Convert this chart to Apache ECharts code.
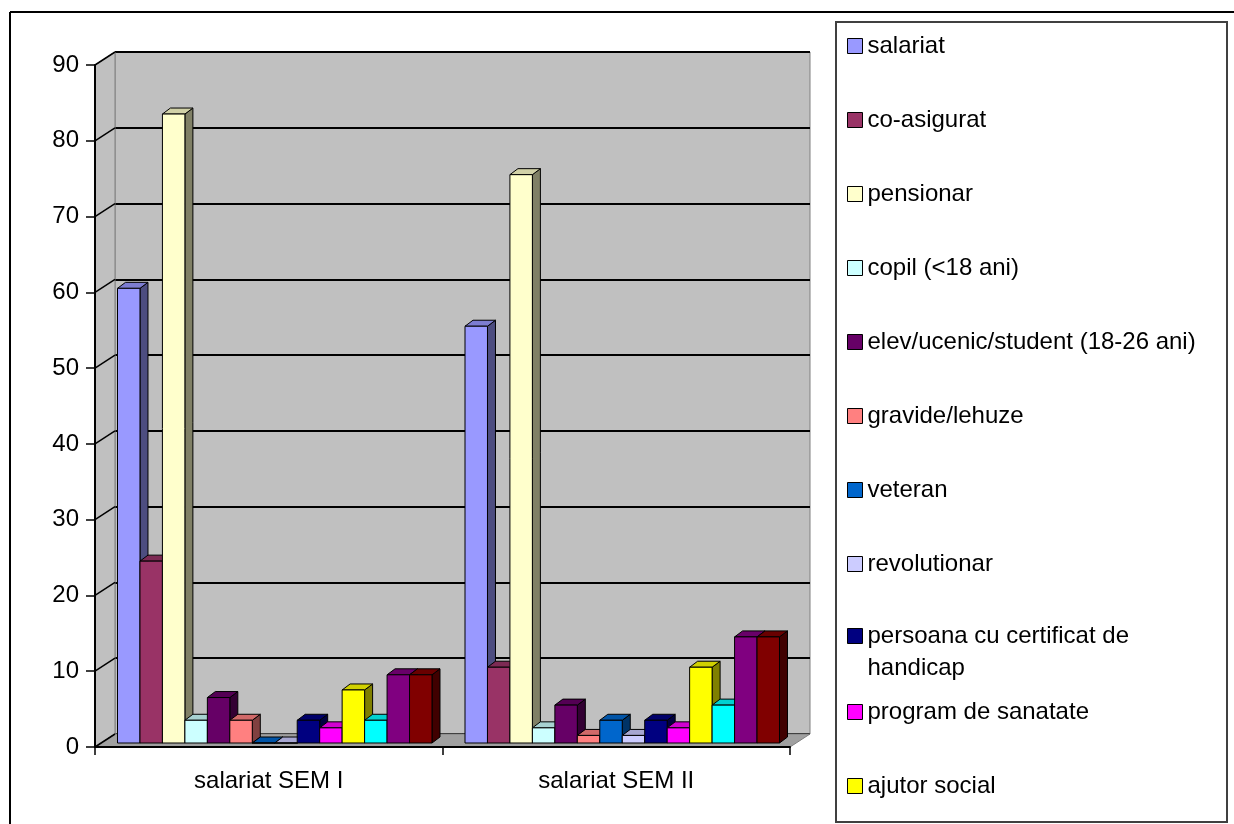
<!DOCTYPE html>
<html>
<head>
<meta charset="utf-8">
<script src="https://cdn.jsdelivr.net/npm/echarts@6/dist/echarts.min.js"></script>
<style>
  html, body { margin: 0; padding: 0; background: #fff; }
  #chart { width: 1234px; height: 824px; }
</style>
</head>
<body>
<div id="chart"></div>
<script>
// categories and values
var categories = ['salariat SEM I', 'salariat SEM II'];
var salariat = [60, 55];
var coAsigurat = [24, 10];
var pensionar = [83, 75];
var copil = [3, 2];
var elev = [6, 5];
var gravide = [3, 1];
var veteran = [0, 3];
var revolutionar = [0, 1];
var persoana = [3, 3];
var program = [2, 2];
var ajutor = [7, 10];
var serie12 = [3, 5];
var serie13 = [9, 14];
var serie14 = [9, 14];
var yMin = 0, yMax = 90, yStep = 10;

var seriesList = [
  { name: 'salariat', data: salariat, color: '#9999FF' },
  { name: 'co-asigurat', data: coAsigurat, color: '#993366' },
  { name: 'pensionar', data: pensionar, color: '#FFFFCC' },
  { name: 'copil (<18 ani)', data: copil, color: '#CCFFFF' },
  { name: 'elev/ucenic/student (18-26 ani)', data: elev, color: '#660066' },
  { name: 'gravide/lehuze', data: gravide, color: '#FF8080' },
  { name: 'veteran', data: veteran, color: '#0066CC' },
  { name: 'revolutionar', data: revolutionar, color: '#CCCCFF' },
  { name: 'persoana cu certificat de handicap', data: persoana, color: '#000080' },
  { name: 'program de sanatate', data: program, color: '#FF00FF' },
  { name: 'ajutor social', data: ajutor, color: '#FFFF00' },
  { name: 'serie 12', data: serie12, color: '#00FFFF' },
  { name: 'serie 13', data: serie13, color: '#800080' },
  { name: 'serie 14', data: serie14, color: '#800000' }
];

// 3D look
var wallDepth = [20, -13];
var barShift = [6, -4];
var barDepth = [8, -6];
var FONT = 'Liberation Sans';

function shade(hex, k) {
  var n = parseInt(hex.slice(1), 16);
  var r = Math.round(((n >> 16) & 255) * k);
  var g = Math.round(((n >> 8) & 255) * k);
  var b = Math.round((n & 255) * k);
  return 'rgb(' + r + ',' + g + ',' + b + ')';
}

function renderBar(params, api) {
  var idx = params.seriesIndex;
  var cnt = seriesList.length;
  var color = seriesList[idx].color;
  var base = api.coord([api.value(0), 0]);
  var top = api.coord([api.value(0), api.value(1)]);
  var catW = api.size([1, 0])[0];
  var bw = catW * 0.905 / cnt;
  var x0 = base[0] - bw * cnt / 2 + idx * bw + barShift[0];
  var x1 = x0 + bw;
  var y0 = base[1] + barShift[1];
  var y1 = top[1] + barShift[1];
  var dx = barDepth[0], dy = barDepth[1];
  return {
    type: 'group',
    children: [
      {
        type: 'polygon',
        shape: { points: [[x1, y0], [x1 + dx, y0 + dy], [x1 + dx, y1 + dy], [x1, y1]] },
        style: { fill: shade(color, 0.5), stroke: '#000', lineWidth: 1 }
      },
      {
        type: 'polygon',
        shape: { points: [[x0, y1], [x1, y1], [x1 + dx, y1 + dy], [x0 + dx, y1 + dy]] },
        style: { fill: shade(color, 0.82), stroke: '#000', lineWidth: 1 }
      },
      {
        type: 'rect',
        shape: { x: x0, y: y1, width: bw, height: y0 - y1 },
        style: { fill: color, stroke: '#000', lineWidth: 1 }
      }
    ]
  };
}

var legendText = { fontFamily: FONT, fontSize: 24, color: '#000', lineHeight: 28 };

var chart = echarts.init(document.getElementById('chart'));
chart.setOption({
  animation: false,
  backgroundColor: '#fff',
  grid: [
    { left: 95, right: 444, top: 65, bottom: 77 },
    {
      left: 95 + wallDepth[0], right: 444 - wallDepth[0], top: 65 + wallDepth[1], bottom: 77 - wallDepth[1],
      show: true, backgroundColor: '#c0c0c0', borderColor: '#808080', borderWidth: 1
    }
  ],
  xAxis: [
    {
      type: 'category', gridIndex: 0, data: categories, z: 5,
      axisLine: { lineStyle: { color: '#000', width: 2 } },
      axisTick: { show: true, length: 8, lineStyle: { color: '#000', width: 1.5 } },
      axisLabel: { margin: 22, fontFamily: FONT, fontSize: 24, color: '#000' },
      splitLine: { show: false }
    },
    {
      type: 'category', gridIndex: 1, data: categories,
      axisLine: { show: false }, axisTick: { show: false }, axisLabel: { show: false },
      splitLine: { show: false }
    }
  ],
  yAxis: [
    {
      type: 'value', gridIndex: 0, min: yMin, max: yMax, interval: yStep, z: 5,
      axisLine: { show: true, lineStyle: { color: '#000', width: 2 } },
      axisTick: { show: true, length: 9, lineStyle: { color: '#000', width: 1.5 } },
      axisLabel: { margin: 16, fontFamily: FONT, fontSize: 24, color: '#000' },
      splitLine: { show: false }
    },
    {
      type: 'value', gridIndex: 1, min: yMin, max: yMax, interval: yStep,
      axisLine: { show: false }, axisTick: { show: false }, axisLabel: { show: false },
      splitLine: { show: true, lineStyle: { color: '#000', width: 2 } }
    }
  ],
  legend: [
    {
      orient: 'vertical', left: 847, top: 32, padding: 0, itemGap: 46, itemWidth: 15, itemHeight: 15,
      icon: 'rect', itemStyle: { borderColor: '#000', borderWidth: 1 },
      textStyle: legendText,
      data: seriesList.slice(0, 8).map(function (s) { return s.name; })
    },
    {
      orient: 'vertical', left: 847, top: 588, padding: 0, itemWidth: 15, itemHeight: 15,
      icon: 'rect', itemStyle: { borderColor: '#000', borderWidth: 1 },
      textStyle: { fontFamily: FONT, fontSize: 24, color: '#000', lineHeight: 32 },
      // blank first line keeps the icon level with the first text line
      formatter: function () { return ' \npersoana cu certificat de\nhandicap'; },
      data: [seriesList[8].name]
    },
    {
      orient: 'vertical', left: 847, top: 698, padding: 0, itemGap: 46, itemWidth: 15, itemHeight: 15,
      icon: 'rect', itemStyle: { borderColor: '#000', borderWidth: 1 },
      textStyle: legendText,
      data: [seriesList[9].name, seriesList[10].name]
    }
  ],
  series: seriesList.map(function (s) {
    return {
      name: s.name,
      type: 'custom',
      xAxisIndex: 0,
      yAxisIndex: 0,
      z: 3,
      itemStyle: { color: s.color },
      renderItem: renderBar,
      encode: { x: 0, y: 1 },
      data: s.data.map(function (v, i) { return [i, v]; })
    };
  })
});

// walls, floor, slanted tick connectors, frame and legend box
var c0 = chart.convertToPixel({ xAxisIndex: 0 }, 0);
var c1 = chart.convertToPixel({ xAxisIndex: 0 }, 1);
var xL = c0 - (c1 - c0) / 2;
var xR = c1 + (c1 - c0) / 2;
var yB = chart.convertToPixel({ yAxisIndex: 0 }, yMin);
var yT = chart.convertToPixel({ yAxisIndex: 0 }, yMax);
var wx = wallDepth[0], wy = wallDepth[1];
var graphics = [
  {
    type: 'polygon', z: 1,
    shape: { points: [[xL, yT], [xL + wx, yT + wy], [xL + wx, yB + wy], [xL, yB]] },
    style: { fill: '#c0c0c0', stroke: '#808080', lineWidth: 1 }
  },
  {
    type: 'polygon', z: 1,
    shape: { points: [[xL, yB], [xR, yB], [xR + wx, yB + wy], [xL + wx, yB + wy]] },
    style: { fill: '#a0a0a0', stroke: '#808080', lineWidth: 1 }
  }
];
for (var v = yMin; v <= yMax; v += yStep) {
  var py = chart.convertToPixel({ yAxisIndex: 0 }, v);
  graphics.push({
    type: 'line', z: 1,
    shape: { x1: xL, y1: py, x2: xL + wx, y2: py + wy },
    style: { stroke: '#000', lineWidth: 1.5 }
  });
}
graphics.push(
  { type: 'line', z: 10, shape: { x1: 10, y1: 12, x2: 1234, y2: 12 }, style: { stroke: '#000', lineWidth: 2 } },
  { type: 'line', z: 10, shape: { x1: 10, y1: 12, x2: 10, y2: 824 }, style: { stroke: '#000', lineWidth: 2 } },
  { type: 'rect', z: 0, shape: { x: 836, y: 22, width: 391, height: 800 }, style: { fill: '#fff', stroke: '#404040', lineWidth: 2 } }
);
chart.setOption({ graphic: graphics });
</script>
</body>
</html>
